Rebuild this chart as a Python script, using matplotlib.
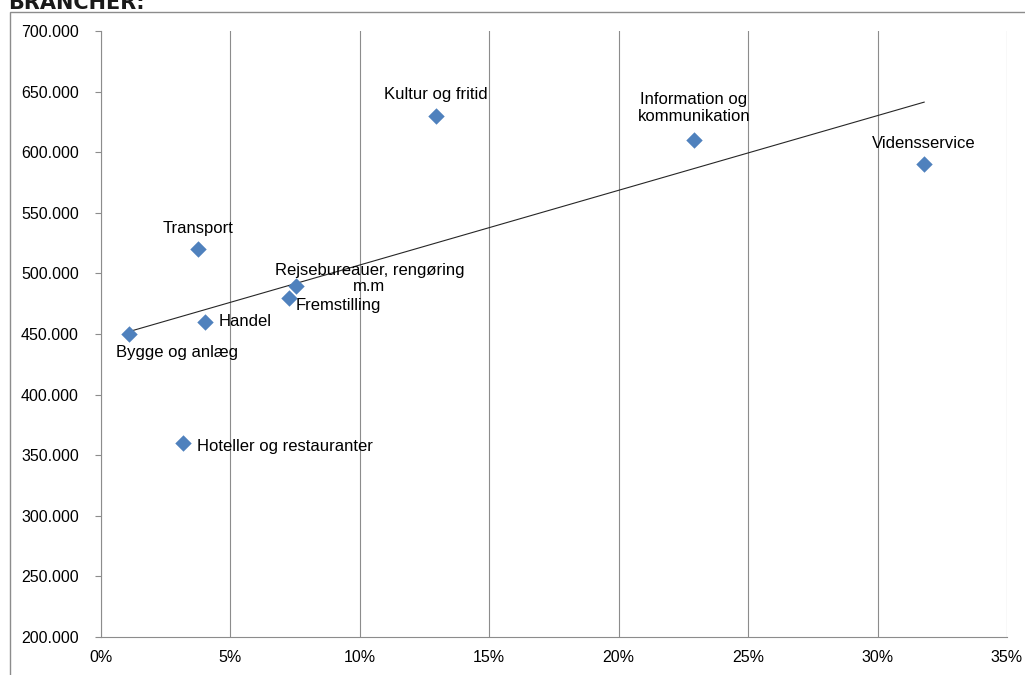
import numpy as np
import matplotlib.pyplot as plt
from matplotlib.patches import Rectangle
from matplotlib.ticker import FuncFormatter, MultipleLocator

plt.rcParams['font.family'] = ['Liberation Sans', 'DejaVu Sans']

brancher = ['Bygge og anlæg', 'Handel', 'Transport', 'Hoteller og restauranter',
            'Fremstilling', 'Rejsebureauer, rengøring\nm.m', 'Kultur og fritid',
            'Information og\nkommunikation', 'Vidensservice']
andel = np.array([1.1, 4.0, 3.75, 3.15, 7.25, 7.55, 12.95, 22.9, 31.8]) / 100
loen = np.array([450000, 460000, 520000, 360000, 480000, 490000, 630000, 610000, 590000])

# label offsets in pixels (dx, dy, ha)
offsets = [(48, -18, 'center'), (14, 0, 'left'), (0, 21, 'center'), (14, -3, 'left'),
           (7, -8, 'left'), (73, 7, 'center'), (0, 21, 'center'), (0, 32, 'center'),
           (0, 21, 'center')]

fig = plt.figure(figsize=(10.25, 6.75), dpi=100)
ax = fig.add_axes([101 / 1025, 1 - 637 / 675, 906 / 1025, 606 / 675])

# frame round the chart and the heading, which the reference cuts at the top
fig.patches.append(Rectangle((10 / 1025, -0.1), 1.1, 1 - 12 / 675 + 0.1,
                             transform=fig.transFigure, fill=False,
                             edgecolor='#8c8c8c', linewidth=1))
fig.text(8 / 1025, 1 - 9 / 675, 'BRANCHER:', fontsize=15, fontweight='bold',
         family='DejaVu Sans', color='#1a1a1a', va='baseline')

# trendline
a, b = np.polyfit(andel, loen, 1)
xs = np.array([andel.min(), andel.max()])
ax.plot(xs, a * xs + b, color='#262626', linewidth=0.8, zorder=2)

ax.scatter(andel, loen, marker='D', s=70, color='#4f81bd', zorder=3, linewidths=0)

for navn, x, y, (dx, dy, ha) in zip(brancher, andel, loen, offsets):
    ax.annotate(navn, (x, y), xytext=(dx, dy), textcoords='offset pixels',
                ha=ha, va='center', fontsize=12, color='black',
                multialignment='center', linespacing=1.1)

ax.set_xlim(0, 0.35)
ax.set_ylim(200000, 700000)
ax.xaxis.set_major_locator(MultipleLocator(0.05))
ax.yaxis.set_major_locator(MultipleLocator(50000))
ax.xaxis.set_major_formatter(FuncFormatter(lambda v, p: f'{v * 100:.0f}%'))
ax.yaxis.set_major_formatter(FuncFormatter(lambda v, p: f'{v:,.0f}'.replace(',', '.')))
ax.grid(axis='x', color='#8c8c8c', linewidth=0.8)
ax.set_axisbelow(True)

for s in ['top', 'right']:
    ax.spines[s].set_visible(False)
for s in ['left', 'bottom']:
    ax.spines[s].set_color('#8c8c8c')
    ax.spines[s].set_linewidth(0.8)
ax.tick_params(axis='both', colors='#8c8c8c', labelcolor='black', labelsize=11.5,
               length=4, width=0.8)
ax.tick_params(axis='y', pad=12)
ax.tick_params(axis='x', length=0, pad=9)

fig.savefig('out.png', dpi=100)
